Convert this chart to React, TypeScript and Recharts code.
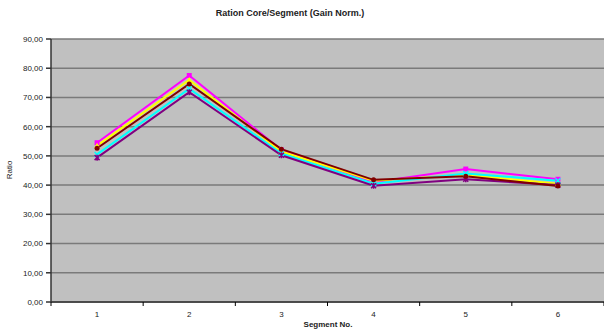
import { LineChart, Line, XAxis, YAxis, CartesianGrid } from 'recharts'

const segments = [1, 2, 3, 4, 5, 6]
const magentaValues = [54.5, 77.5, 52.0, 41.0, 45.5, 42.0]
const yellowValues = [53.5, 76.0, 51.5, 41.5, 43.5, 40.5]
const cyanValues = [50.5, 73.0, 50.8, 40.5, 44.0, 41.5]
const purpleValues = [49.4, 71.8, 50.2, 39.8, 42.0, 40.0]
const darkRedValues = [52.6, 74.6, 52.3, 41.8, 43.0, 39.7]
const yTicks = [0, 10, 20, 30, 40, 50, 60, 70, 80, 90]

const data = segments.map((seg, i) => ({
  seg,
  s1: magentaValues[i],
  s2: yellowValues[i],
  s3: cyanValues[i],
  s4: purpleValues[i],
  s5: darkRedValues[i],
}))

const W = 604
const H = 334
const LEFT = 51
const HALF_BAND = (W - LEFT) / 12

const font = 'Arial, "Liberation Sans", sans-serif'

function marker(shape: string, color: string) {
  return (props: any) => {
    const { cx, cy, index } = props
    if (cx == null || cy == null) return <g key={index} />
    const r = 2.5
    if (shape === 'square')
      return <rect key={index} x={cx - r} y={cy - r} width={r * 2} height={r * 2} fill={color} />
    if (shape === 'triangle')
      return <polygon key={index} points={`${cx},${cy - 3} ${cx - 3},${cy + 2.5} ${cx + 3},${cy + 2.5}`} fill={color} />
    if (shape === 'circle') return <circle key={index} cx={cx} cy={cy} r={r} fill={color} />
    if (shape === 'x')
      return (
        <path key={index} d={`M${cx - r},${cy - r}L${cx + r},${cy + r}M${cx - r},${cy + r}L${cx + r},${cy - r}`} stroke={color} strokeWidth={1.5} />
      )
    return (
      <path
        key={index}
        d={`M${cx - r},${cy - r}L${cx + r},${cy + r}M${cx - r},${cy + r}L${cx + r},${cy - r}M${cx},${cy - r - 0.5}L${cx},${cy + r + 0.5}`}
        stroke={color}
        strokeWidth={1.5}
      />
    )
  }
}

function XTick(props: any) {
  const { x, y, payload, index } = props
  const v = payload.value
  return (
    <g>
      <line x1={x - HALF_BAND} x2={x - HALF_BAND} y1={y - 8} y2={y - 4} stroke="#000" />
      {index === segments.length - 1 && (
        <line x1={x + HALF_BAND} x2={x + HALF_BAND} y1={y - 8} y2={y - 4} stroke="#000" />
      )}
      <text x={x} y={y + 7} textAnchor="middle" fontSize={8} fill="#222" fontFamily={font}>
        {v}
      </text>
    </g>
  )
}

const series = [
  { key: 's1', color: '#FF00FF', shape: 'square' },
  { key: 's2', color: '#FFFF00', shape: 'triangle' },
  { key: 's3', color: '#00FFFF', shape: 'x' },
  { key: 's4', color: '#800080', shape: 'star' },
  { key: 's5', color: '#800000', shape: 'circle' },
]

export default function App() {
  return (
    <div style={{ position: 'absolute', left: 0, top: 0, width: W, height: H, background: '#fff' }}>
      <style>{'body{margin:0}'}</style>
      <LineChart width={W} height={H} data={data} margin={{ top: 39, right: 0, bottom: 0, left: 0 }}>
        <text x={290} y={16} textAnchor="middle" fontSize={9} fontWeight="bold" fill="#222" fontFamily={font}>
          Ration Core/Segment (Gain Norm.)
        </text>
        <text
          x={12}
          y={170}
          textAnchor="middle"
          fontSize={8}
          fill="#222"
          fontFamily={font}
          transform="rotate(-90 12 170)"
        >
          Ratio
        </text>
        <text x={328} y={327} textAnchor="middle" fontSize={8} fontWeight="bold" fill="#222" fontFamily={font}>
          Segment No.
        </text>
        <CartesianGrid vertical={false} fill="#C0C0C0" stroke="#7a7a7a" strokeWidth={1.5} />
        <XAxis
          dataKey="seg"
          type="number"
          domain={[0.5, 6.5]}
          ticks={segments}
          height={32}
          tickLine={false}
          tick={<XTick />}
          stroke="#333"
          strokeWidth={1.5}
          interval={0}
        />
        <YAxis
          width={LEFT}
          domain={[0, 90]}
          ticks={yTicks}
          tickSize={5}
          tickMargin={3}
          tickFormatter={(v: number) => v.toFixed(2).replace('.', ',')}
          tick={{ fontSize: 8, fill: '#222', fontFamily: font }}
          stroke="#333"
          strokeWidth={1.5}
          interval={0}
        />
        {series.map((s) => (
          <Line
            key={s.key}
            dataKey={s.key}
            stroke={s.color}
            strokeWidth={2}
            dot={marker(s.shape, s.color)}
            isAnimationActive={false}
          />
        ))}
      </LineChart>
    </div>
  )
}
